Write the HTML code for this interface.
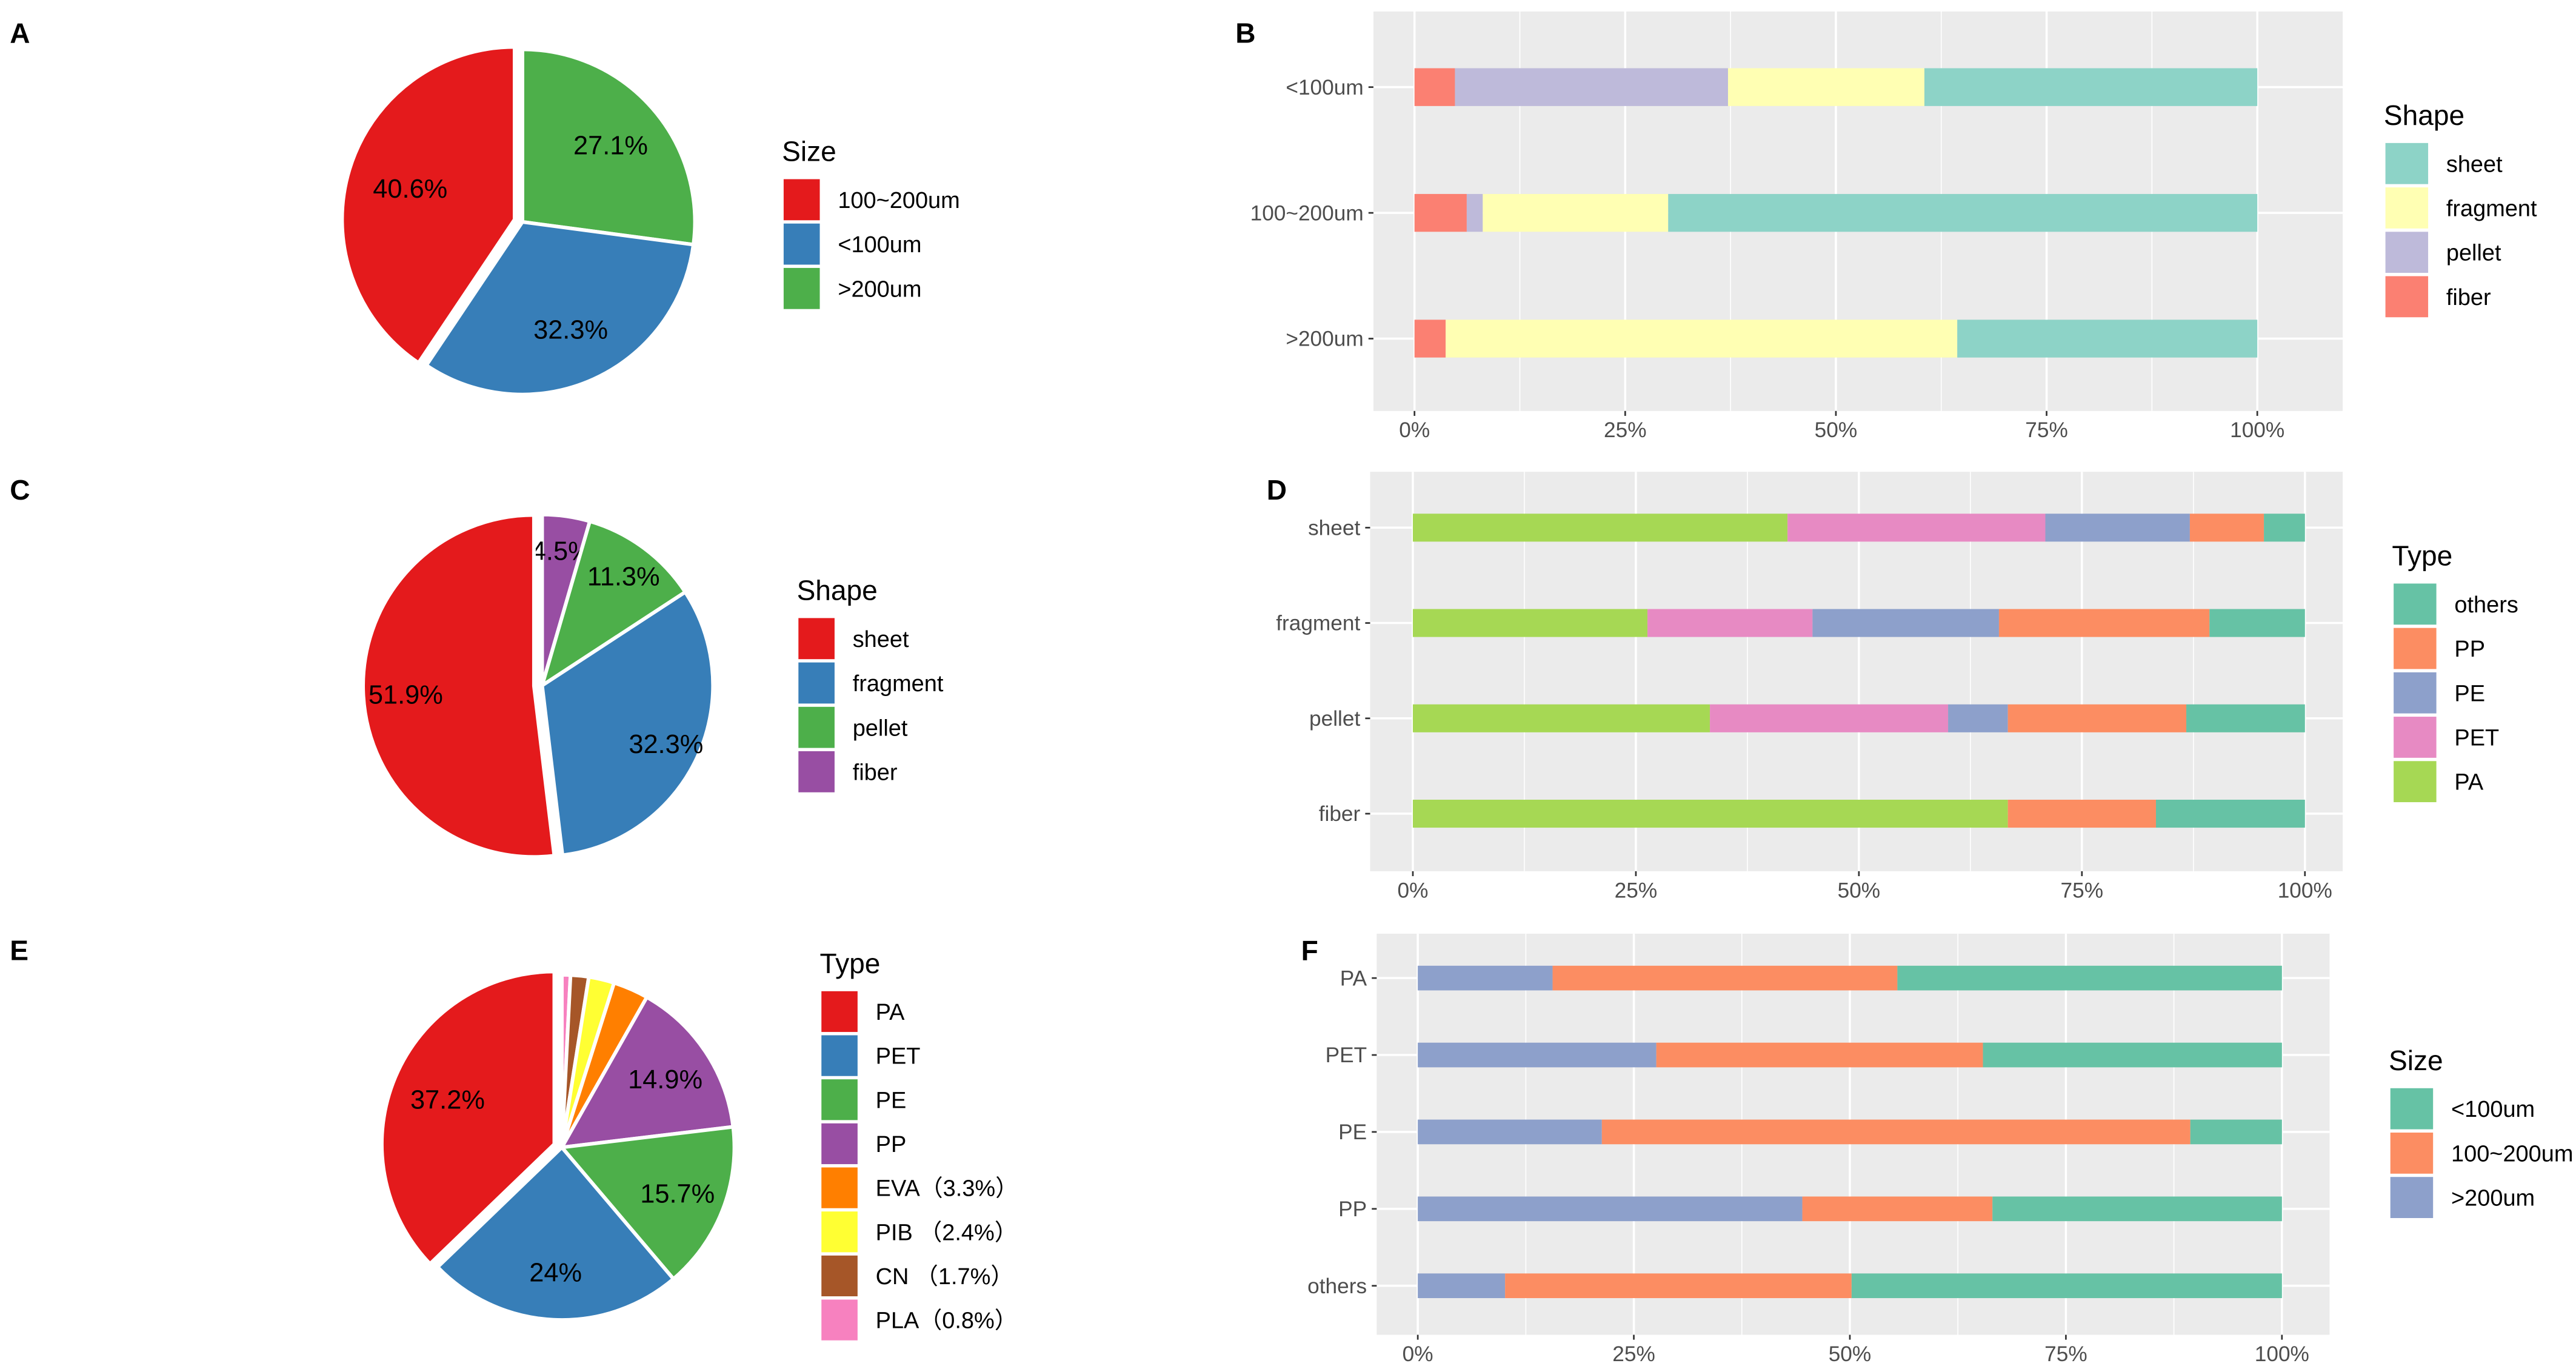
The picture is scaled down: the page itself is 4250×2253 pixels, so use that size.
<!DOCTYPE html>
<html><head><meta charset="utf-8"><style>
html,body{margin:0;padding:0;background:#fff}
svg{display:block}
text{font-family:"Liberation Sans","Noto Sans CJK SC",sans-serif}
</style></head><body>
<svg id="fig" width="4250" height="2253" viewBox="0 0 1568 831" preserveAspectRatio="none" xmlns="http://www.w3.org/2000/svg">
<g font-weight="bold" font-size="17" fill="#000">
<text x="6" y="26">A</text>
<text x="752" y="26">B</text>
<text x="6" y="304">C</text>
<text x="771" y="304">D</text>
<text x="6" y="584">E</text>
<text x="792" y="584">F</text>
</g>
</svg>
<script>
// ---- Pie data ----
const pieALabels = ["100-200um","<100um",">200um"];
const pieAValues = [40.6,32.3,27.1];
const pieAOrder = [">200um","<100um","100-200um"];
const pieCLabels = ["sheet","fragment","pellet","fiber"];
const pieCValues = [51.9,32.3,11.3,4.5];
const pieCOrder = ["fiber","pellet","fragment","sheet"];
const pieELabels = ["PA","PET","PE","PP","EVA（3.3%）","PIB （2.4%）","CN  （1.7%）","PLA（0.8%）"];
const pieEKeys = ["PA","PET","PE","PP","EVA","PIB","CN","PLA"];
const pieEValues = [37.2,24,15.7,14.9,3.3,2.4,1.7,0.8];
const pieEOrder = ["PLA","CN","PIB","EVA","PP","PE","PET","PA"];
const pieEPrinted = ["37.2%","24%","15.7%","14.9%","","","",""];
// ---- Bar data ----
const barBCats = ["<100um","100~200um",">200um"];
const barBSeries = ["fiber","pellet","fragment","sheet"];
const barBFiber = [4.8,6.2,3.7];
const barBPellet = [32.4,1.9,0];
const barBFragment = [23.3,22.0,60.7];
const barBSheet = [39.5,69.9,35.6];
const barDCats = ["sheet","fragment","pellet","fiber"];
const barDSeries = ["PA","PET","PE","PP","others"];
const barDPA = [42.0,26.3,33.3,66.7];
const barDPET = [28.9,18.5,26.7,0];
const barDPE = [16.2,20.9,6.7,0];
const barDPP = [8.3,23.6,20.0,16.6];
const barDOthers = [4.6,10.7,13.3,16.7];
const barFCats = ["PA","PET","PE","PP","others"];
const barFSeries = [">200um","100~200um","<100um"];
const barFBig = [15.6,27.6,21.3,44.5,10.1];
const barFMid = [39.9,37.8,68.1,22.0,40.1];
const barFSmall = [44.5,34.6,10.6,33.5,49.8];
const xTicks = [0,25,50,75,100];
const xTickLabels = ["0%","25%","50%","75%","100%"];

const svg = document.getElementById('fig');
const NS = "http://www.w3.org/2000/svg";
function mk(tag, attrs, parent){const e=document.createElementNS(NS,tag);for(const k in attrs)e.setAttribute(k,attrs[k]);(parent||svg).appendChild(e);return e;}

function pie(cx,cy,r,labels,values,order,colors,printed,explode,name,lpos){
  const g=mk('g',{});
  
  
  const total=values.reduce((a,b)=>a+b,0);
  let a0=0;
  order.forEach(lbl=>{
    const i=labels.indexOf(lbl);
    const v=values[i];
    const a1=a0+v/total*2*Math.PI;
    const mid=(a0+a1)/2;
    const off=(lbl===explode)?5:0;
    const ox=cx+off*Math.sin(mid), oy=cy-off*Math.cos(mid);
    const x0=ox+r*Math.sin(a0), y0=oy-r*Math.cos(a0);
    const x1=ox+r*Math.sin(a1), y1=oy-r*Math.cos(a1);
    const large=(a1-a0)>Math.PI?1:0;
    const p=mk('path',{d:`M${ox},${oy} L${x0},${y0} A${r},${r} 0 ${large} 1 ${x1},${y1} Z`,fill:colors[i],stroke:'#fff','stroke-width':2.2},g);
    
    
    if(printed[i]){
      const lr=r*(lpos||0.72);
      const t=mk('text',{x:cx+lr*Math.sin(mid),y:cy-lr*Math.cos(mid)+6,'text-anchor':'middle','font-size':16,fill:'#000'},g);
      t.textContent=printed[i];
      
      
    }
    a0=a1;
  });
}

function legend(x,y,title,labels,colors,name,step,size){
  const g=mk('g',{});
  
  
  const t=mk('text',{x:x,y:y,'font-size':17,fill:'#000'},g);t.textContent=title;
  
  
  labels.forEach((l,i)=>{
    const yy=y+10+i*step;
    const rc=mk('rect',{x:x+1,y:yy+1,width:size,height:step-2,fill:colors[i]},g);
    
    
    const tx=mk('text',{x:x+size+12,y:yy+step/2+5,'font-size':14,fill:'#000'},g);
    tx.textContent=l;
    
    
  });
}

function bars(px0,px1,py0,py1,x0,x1,cats,catY,bh,series,colors,name){
  const g=mk('g',{});
  
  
  const xs=v=>x0+(x1-x0)*v/100;
  const bg=mk('rect',{x:px0,y:py0,width:px1-px0,height:py1-py0,fill:'#EBEBEB'},g);
  
  
  [12.5,37.5,62.5,87.5].forEach(v=>{const l=mk('line',{x1:xs(v),x2:xs(v),y1:py0,y2:py1,stroke:'#fff','stroke-width':0.6},g);});
  xTicks.forEach(v=>{const l=mk('line',{x1:xs(v),x2:xs(v),y1:py0,y2:py1,stroke:'#fff','stroke-width':1.3},g);});
  cats.forEach((c,i)=>{
    const y=catY(i);
    const l=mk('line',{x1:px0,x2:px1,y1:y,y2:y,stroke:'#fff','stroke-width':1.3},g);
    
    
    const tk=mk('line',{x1:px0-3,x2:px0,y1:y,y2:y,stroke:'#333','stroke-width':1},g);
    
    
    const t=mk('text',{x:px0-6,y:y+4.5,'text-anchor':'end','font-size':13,fill:'#4D4D4D'},g);
    t.textContent=c;
    
    
    let acc=0;
    series.forEach((s,j)=>{
      const v=s[i];
      if(v>0){
        const r=mk('rect',{x:xs(acc),y:y-bh/2,width:xs(acc+v)-xs(acc),height:bh,fill:colors[j]},g);
        
        
      }
      acc+=v;
    });
  });
  xTicks.forEach((v,i)=>{
    const tk=mk('line',{x1:xs(v),x2:xs(v),y1:py1,y2:py1+3,stroke:'#333','stroke-width':1},g);
    
    
    const t=mk('text',{x:xs(v),y:py1+16,'text-anchor':'middle','font-size':13,fill:'#4D4D4D'},g);
    t.textContent=xTickLabels[i];
    
    
  });
}

const set1=["#E41A1C","#377EB8","#4DAF4A","#984EA3","#FF7F00","#FFFF33","#A65628","#F781BF"];
pie(318,135,105,pieALabels,pieAValues,pieAOrder,set1.slice(0,3),["40.6%","32.3%","27.1%"],"100-200um","pie-a",0.68);
legend(476,98,"Size",["100~200um","<100um",">200um"],set1.slice(0,3),"legend-a",27,22);
pie(330,417,104,pieCLabels,pieCValues,pieCOrder,set1.slice(0,4),["51.9%","32.3%","11.3%","4.5%"],"sheet","pie-c",0.8);
legend(485,365,"Shape",pieCLabels,set1.slice(0,4),"legend-c",27,22);
pie(342,698,105,pieEKeys,pieEValues,pieEOrder,set1,pieEPrinted,"PA","pie-e",0.72);
legend(499,592,"Type",pieELabels,set1,"legend-e",26.8,22);

const set3=["#FB8072","#BEBADA","#FFFFB3","#8DD3C7"];
bars(836,1426,7,250,861,1374,barBCats,i=>[53,129.5,206][i],23,[barBFiber,barBPellet,barBFragment,barBSheet],set3,"bar-chart-b");
legend(1451,76,"Shape",["sheet","fragment","pellet","fiber"],["#8DD3C7","#FFFFB3","#BEBADA","#FB8072"],"legend-b",27,26);

const set2D=["#A6D854","#E78AC3","#8DA0CB","#FC8D62","#66C2A5"];
bars(834,1426,287,530,860,1403,barDCats,i=>321+i*58,17,[barDPA,barDPET,barDPE,barDPP,barDOthers],set2D,"bar-chart-d");
legend(1456,344,"Type",["others","PP","PE","PET","PA"],["#66C2A5","#FC8D62","#8DA0CB","#E78AC3","#A6D854"],"legend-d",27,26);

bars(838,1418,568,812,863,1389,barFCats,i=>595+i*46.8,15,[barFBig,barFMid,barFSmall],["#8DA0CB","#FC8D62","#66C2A5"],"bar-chart-f");
legend(1454,651,"Size",["<100um","100~200um",">200um"],["#66C2A5","#FC8D62","#8DA0CB"],"legend-f",27,26);
</script>
</body></html>
